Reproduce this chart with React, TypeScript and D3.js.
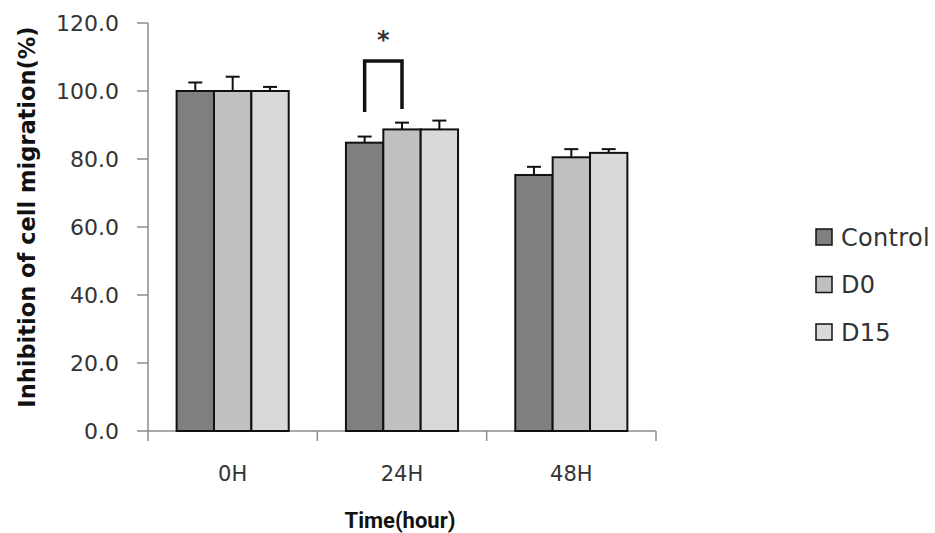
import React from "react";
import * as d3 from "d3";

const categories = ["0H", "24H", "48H"];
const seriesNames = ["Control", "D0", "D15"];
const seriesColors = ["#7f7f7f", "#c0c0c0", "#d9d9d9"];
const controlValues = [100.0, 84.8, 75.3];
const d0Values = [100.0, 88.7, 80.5];
const d15Values = [100.0, 88.7, 81.8];
const controlErr = [2.5, 1.8, 2.4];
const d0Err = [4.2, 2.0, 2.4];
const d15Err = [1.2, 2.6, 1.1];
const yTicks = [0, 20, 40, 60, 80, 100, 120];

const W = 935;
const H = 533;
const left = 148;
const right = 656;
const top = 23;
const bottom = 431;

export default function App() {
  const values = [controlValues, d0Values, d15Values];
  const errs = [controlErr, d0Err, d15Err];
  const x = d3.scaleBand<string>().domain(categories).range([left, right]).padding(0);
  const y = d3.scaleLinear().domain([0, 120]).range([bottom, top]);
  const groupW = x.bandwidth() * 0.662;
  const xs = d3.scaleBand<string>().domain(seriesNames).range([0, groupW]).padding(0);
  const font = "'DejaVu Sans', sans-serif";
  const axisColor = "#8c8c8c";

  const bx0 = (x("24H") as number) + (x.bandwidth() - groupW) / 2 + xs("Control")! + xs.bandwidth() / 2;
  const bx1 = (x("24H") as number) + (x.bandwidth() - groupW) / 2 + xs("D0")! + xs.bandwidth() / 2;

  return (
    <svg width={W} height={H} style={{ position: "absolute", left: 0, top: 0, background: "#fff" }}>
      <rect width={W} height={H} fill="#fff" />
      <line x1={left} x2={left} y1={y(120)} y2={y(0)} stroke={axisColor} strokeWidth={1.5} />
      {yTicks.map((t) => (
        <g key={t}>
          <line x1={left - 11} x2={left} y1={y(t)} y2={y(t)} stroke={axisColor} strokeWidth={1.5} />
          <text x={119} y={y(t)} dy="0.36em" textAnchor="end" fontFamily={font} fontSize={22} fill="#333">
            {t.toFixed(1)}
          </text>
        </g>
      ))}
      <line x1={left} x2={right} y1={bottom} y2={bottom} stroke={axisColor} strokeWidth={1.5} />
      {[...categories.map((c) => x(c) as number), right].map((px, i) => (
        <line key={i} x1={px} x2={px} y1={bottom} y2={bottom + 10} stroke={axisColor} strokeWidth={1.5} />
      ))}
      {categories.map((c) => (
        <text key={c} x={(x(c) as number) + x.bandwidth() / 2} y={473} dy="0.36em" textAnchor="middle" fontFamily={font} fontSize={21} fill="#333">
          {c}
        </text>
      ))}
      {categories.map((c, ci) => {
        const gx = (x(c) as number) + (x.bandwidth() - groupW) / 2;
        return (
          <g key={c}>
            {seriesNames.map((s, si) => {
              const v = values[si][ci];
              const e = errs[si][ci];
              const bx = gx + xs(s)!;
              const cx = bx + xs.bandwidth() / 2;
              return (
                <g key={s}>
                  <line x1={cx} x2={cx} y1={y(v)} y2={y(v + e)} stroke="#111" strokeWidth={2} />
                  <line x1={cx - 7} x2={cx + 7} y1={y(v + e)} y2={y(v + e)} stroke="#111" strokeWidth={2} />
                  <rect x={bx} y={y(v)} width={xs.bandwidth()} height={y(0) - y(v)} fill={seriesColors[si]} stroke="#111" strokeWidth={2} />
                </g>
              );
            })}
          </g>
        );
      })}
      <path
        d={`M${bx0},${y(93.8)} V${y(108.8)} H${bx1} V${y(94.7)}`}
        fill="none"
        stroke="#111"
        strokeWidth={3.5}
      />
      <text x={(bx0 + bx1) / 2} y={48} textAnchor="middle" fontFamily={font} fontSize={24} fontWeight="bold" fill="#333">
        *
      </text>
      {seriesNames.map((s, i) => (
        <g key={s} transform={`translate(816, ${229 + i * 47.5})`}>
          <rect x={0} y={0} width={16} height={16} fill={seriesColors[i]} stroke="#111" strokeWidth={1.5} />
          <text x={25} y={8} dy="0.36em" fontFamily={font} fontSize={24} fill="#333" letterSpacing={0.3}>
            {s}
          </text>
        </g>
      ))}
      <text
        transform={`translate(27, ${217}) rotate(-90)`}
        textAnchor="middle"
        dy="0.36em"
        fontFamily={font}
        fontSize={22.5}
        fontWeight="bold"
        fill="#111"
      >
        Inhibition of cell migration(%)
      </text>
      <text x={400} y={520} dy="0.36em" textAnchor="middle" fontFamily="Roboto, sans-serif" fontSize={22} fontWeight="bold" fill="#111">
        Time(hour)
      </text>
    </svg>
  );
}
